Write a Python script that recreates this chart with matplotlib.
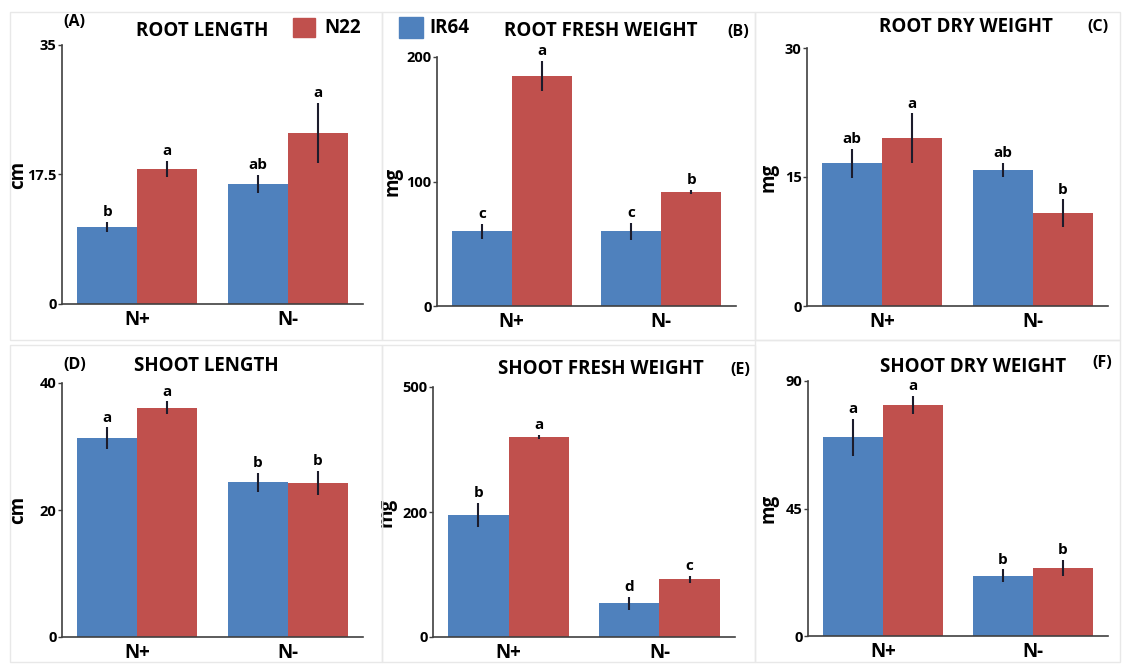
import numpy as np
import matplotlib
matplotlib.use('Agg')
import matplotlib.pyplot as plt
from matplotlib.patches import Rectangle

plt.rcParams['font.family'] = ['Open Sans', 'DejaVu Sans']
plt.rcParams['font.weight'] = 'bold'

# данные
groups = ['N+', 'N-']
titles = ['ROOT LENGTH', 'ROOT FRESH WEIGHT', 'ROOT DRY WEIGHT',
          'SHOOT LENGTH', 'SHOOT FRESH WEIGHT', 'SHOOT DRY WEIGHT']
tags = ['(A)', '(B)', '(C)', '(D)', '(E)', '(F)']
units = ['cm', 'mg', 'mg', 'cm', 'mg', 'mg']
y_max = [35, 200, 30, 40, 500, 90]
ytick_labels = [['0', '17.5', '35'], ['0', '100', '200'], ['0', '15', '30'],
                ['0', '20', '40'], ['0', '200', '500'], ['0', '45', '90']]

ir64_mean = [[10.4, 16.2], [60, 60], [16.6, 15.8], [31.3, 24.4], [244, 68], [70.2, 21.2]]
ir64_err = [[0.7, 1.2], [6, 7], [1.7, 0.8], [1.7, 1.5], [24, 13], [6.5, 2.3]]
n22_mean = [[18.2, 23.1], [185, 91.6], [19.5, 10.8], [36.1, 24.2], [400, 116], [81.5, 24.0]]
n22_err = [[1.1, 4.1], [12, 1.5], [2.9, 1.6], [1.0, 1.9], [4, 7], [3.3, 2.8]]
ir64_sig = [['b', 'ab'], ['c', 'c'], ['ab', 'ab'], ['a', 'b'], ['b', 'd'], ['a', 'b']]
n22_sig = [['a', 'a'], ['a', 'b'], ['a', 'b'], ['a', 'b'], ['a', 'c'], ['a', 'b']]

blue = '#4F81BD'
red = '#C0504D'
W, H = 1126, 667


def fx(px):
    return px / W


def fy(py):
    return 1 - py / H


fig = plt.figure(figsize=(W / 100, H / 100), dpi=100)

# бледные рамки вокруг панелей (как в склейке картинок)
frames = [(10, 12, 382, 340), (382, 12, 755, 340), (755, 12, 1120, 340),
          (10, 345, 382, 662), (382, 345, 755, 662), (755, 340, 1120, 662)]
for l, t, r, b in frames:
    fig.add_artist(Rectangle((fx(l), fy(b)), fx(r) - fx(l), fy(t) - fy(b),
                             transform=fig.transFigure, fill=False,
                             edgecolor='#e8e8e8', lw=1))

# положение осей в пикселях: left, right, top, bottom
boxes = [(62, 363, 45, 304), (437, 736, 57, 306), (807, 1108, 48, 306),
         (62, 363, 383, 637), (433, 735, 387, 637), (808, 1108, 381, 636)]
title_pos = [(202, 31), (601, 31), (966, 27), (206, 366), (601, 369), (973, 367)]
tag_pos = [(74, 22), (738, 32), (1098, 27), (75, 365), (740, 370), (1102, 363)]
ylabel_x = [18, 392, 768, 18, 387, 768]

x = np.arange(len(groups))
w = 0.4

for i in range(6):
    l, r, t, b = boxes[i]
    ax = fig.add_axes([fx(l), fy(b), fx(r) - fx(l), fy(t) - fy(b)])
    ax.bar(x - w / 2, ir64_mean[i], w, color=blue)
    ax.bar(x + w / 2, n22_mean[i], w, color=red)
    ax.errorbar(x - w / 2, ir64_mean[i], yerr=ir64_err[i], fmt='none',
                ecolor='#1c1c2c', elinewidth=1.5, capsize=0)
    ax.errorbar(x + w / 2, n22_mean[i], yerr=n22_err[i], fmt='none',
                ecolor='#1c1c2c', elinewidth=1.5, capsize=0)
    for j in range(len(groups)):
        ax.annotate(ir64_sig[i][j], (x[j] - w / 2, ir64_mean[i][j] + ir64_err[i][j]),
                    xytext=(0, 2), textcoords='offset points', ha='center', va='bottom',
                    fontsize=11, fontweight='bold')
        ax.annotate(n22_sig[i][j], (x[j] + w / 2, n22_mean[i][j] + n22_err[i][j]),
                    xytext=(0, 2), textcoords='offset points', ha='center', va='bottom',
                    fontsize=11, fontweight='bold')

    ax.set_xlim(-0.5, 1.5)
    ax.set_ylim(0, y_max[i])
    ax.set_yticks([0, y_max[i] / 2, y_max[i]])
    ax.set_yticklabels(ytick_labels[i], fontsize=10.5, fontweight='bold')
    ax.set_xticks(x)
    ax.set_xticklabels(groups, fontsize=13.5, fontweight='bold')
    ax.tick_params(axis='x', length=0, pad=4)
    ax.tick_params(axis='y', length=3, pad=1, width=1, color='#404040')
    for s in ['top', 'right']:
        ax.spines[s].set_visible(False)
    for s in ['left', 'bottom']:
        ax.spines[s].set_color('#404040')
        ax.spines[s].set_linewidth(1.2)
    ax.set_ylabel(units[i], fontsize=13.5, fontweight='bold', va='center')
    ax.yaxis.set_label_coords((ylabel_x[i] - l) / (r - l), 0.5)

    tx, ty = title_pos[i]
    fig.text(fx(tx), fy(ty), titles[i], ha='center', va='center',
             fontsize=13.5, fontweight='bold')
    gx, gy = tag_pos[i]
    fig.text(fx(gx), fy(gy), tags[i], ha='center', va='center',
             fontsize=11.5, fontweight='bold')

# легенда
fig.add_artist(Rectangle((fx(293), fy(37)), fx(315) - fx(293), fy(18) - fy(37),
                         transform=fig.transFigure, color=red))
fig.text(fx(324), fy(28), 'N22', ha='left', va='center', fontsize=13.5, fontweight='bold')
fig.add_artist(Rectangle((fx(399), fy(38)), fx(423) - fx(399), fy(17) - fy(38),
                         transform=fig.transFigure, color=blue))
fig.text(fx(429), fy(28), 'IR64', ha='left', va='center', fontsize=13.5, fontweight='bold')

fig.savefig('out.png', dpi=100)
